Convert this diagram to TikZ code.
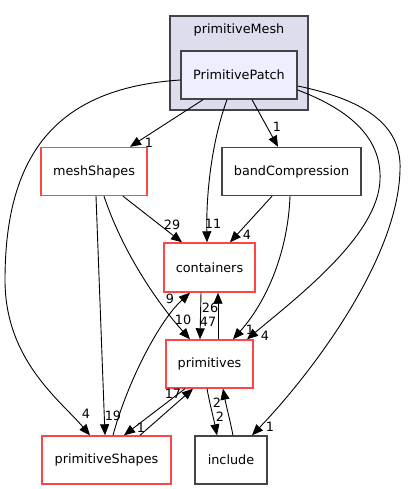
\documentclass[tikz,border=0pt]{standalone}
\usepackage{fontspec}
\setmainfont{DejaVu Sans}
\usepackage{tikz}
\usetikzlibrary{arrows.meta}

\definecolor{clusterfill}{HTML}{DDDDEE}
\definecolor{patchfill}{HTML}{EEEEFF}
\definecolor{darkedge}{HTML}{444444}
\definecolor{rededge}{HTML}{FF4545}

\begin{document}
\begin{tikzpicture}[x=1pt, y=-1pt, font=\fontsize{12.8}{14}\selectfont,
    reddir/.style={draw=rededge, line width=1.4pt, fill=white, minimum height=48pt, inner sep=0pt},
    plaindir/.style={draw=darkedge, line width=1.4pt, fill=white, minimum height=48pt, inner sep=0pt},
    dep/.style={line width=0.9pt, -{Triangle[length=11pt,width=9pt]}},
    lbl/.style={inner sep=0pt}]
    \useasboundingbox (0, 0) rectangle (408, 489);
    \node[draw=darkedge, line width=1.4pt, fill=clusterfill, minimum width=138pt, minimum height=94pt] (meshcluster) at (239, 63) {};
    \node (meshclustername) at (239, 30) {primitiveMesh};
    \node[plaindir, fill=patchfill, minimum width=116pt] (PrimitivePatch) at (239, 75) {PrimitivePatch};
    \node[reddir, minimum width=106pt] (meshShapes) at (94, 171.5) {meshShapes};
    \node[plaindir, minimum width=139pt] (bandCompression) at (291.5, 171.5) {bandCompression};
    \node[reddir, minimum width=91pt, minimum height=49pt] (containers) at (209.5, 267.5) {containers};
    \node[reddir, minimum width=87pt] (primitives) at (209.5, 364) {primitives};
    \node[reddir, minimum width=129pt] (primitiveShapes) at (106.5, 460) {primitiveShapes};
    \node[plaindir, minimum width=72pt] (include) at (231, 460) {include};

    \draw[dep] ([xshift=-36pt]PrimitivePatch.south) -- ([xshift=36pt]meshShapes.north);
    \draw[dep] ([xshift=13pt]PrimitivePatch.south) -- ([xshift=-13.5pt]bandCompression.north);
    \draw[dep] ([xshift=-12pt]PrimitivePatch.south) .. controls (214, 135) and (206, 185) .. ([xshift=-2.5pt]containers.north);
    \draw[dep] ([yshift=-5pt]PrimitivePatch.west) .. controls (60, 88) and (5, 150) .. (5, 280) .. controls (5, 360) and (60, 400) .. ([xshift=-16.5pt]primitiveShapes.north);
    \draw[dep] ([yshift=-15pt]PrimitivePatch.east) .. controls (345, 108) and (382, 135) .. (380, 180) .. controls (378, 235) and (300, 295) .. ([xshift=37.5pt]primitives.north);
    \draw[dep] ([yshift=-11pt]PrimitivePatch.east) .. controls (365, 100) and (402, 125) .. (400, 170) .. controls (398, 260) and (310, 375) .. ([xshift=21pt]include.north);

    \draw[dep] ([xshift=29pt]meshShapes.south) -- ([xshift=-27.5pt]containers.north);
    \draw[dep] ([xshift=10pt]meshShapes.south) .. controls (122, 250) and (155, 300) .. ([xshift=-19.5pt]primitives.north);
    \draw[dep] ([xshift=2pt]meshShapes.south) -- ([xshift=-1.5pt]primitiveShapes.north);
    \draw[dep] ([xshift=-19.5pt]bandCompression.south) -- ([xshift=20.5pt]containers.north);
    \draw[dep] ([xshift=-1.5pt]bandCompression.south) .. controls (288, 250) and (268, 300) .. ([xshift=23.5pt]primitives.north);

    \draw[dep] ([xshift=-8.5pt]containers.south) -- ([xshift=-9.5pt]primitives.north);
    \draw[dep] ([xshift=8.5pt]primitives.north) -- ([xshift=8.5pt]containers.south);
    \draw[dep] ([xshift=6.5pt]primitiveShapes.north) .. controls (128, 380) and (160, 320) .. ([xshift=-19.5pt]containers.south);
    \draw[dep] ([xshift=33.5pt]primitiveShapes.north) -- ([xshift=-16.5pt]primitives.south);
    \draw[dep] ([xshift=-24.5pt]primitives.south) -- ([xshift=17.5pt]primitiveShapes.north);
    \draw[dep] ([xshift=-2.5pt]primitives.south) .. controls (210, 405) and (214, 420) .. ([xshift=-14pt]include.north);
    \draw[dep] ([xshift=2pt]include.north) .. controls (230, 420) and (226, 405) .. ([xshift=13.5pt]primitives.south);

    \node[lbl] (nMeshShapes) at (149, 143) {1};
    \node[lbl] (nBand) at (277, 127) {1};
    \node[lbl] (nPatchCont) at (213, 224) {11};
    \node[lbl] (nPatchShapes) at (86, 414) {4};
    \node[lbl] (nPatchPrim) at (265, 336) {4};
    \node[lbl] (nPatchInc) at (270, 427) {1};
    \node[lbl] (nMeshCont) at (172, 225) {29};
    \node[lbl] (nMeshPrim) at (183, 320) {10};
    \node[lbl] (nMeshShapesPS) at (113, 416) {19};
    \node[lbl] (nBandCont) at (247, 235) {4};
    \node[lbl] (nBandPrim) at (250, 330) {1};
    \node[lbl] (nContPrim) at (208, 322) {47};
    \node[lbl] (nPrimCont) at (210, 308) {26};
    \node[lbl] (nShapesCont) at (170, 299) {9};
    \node[lbl] (nShapesPrim) at (173, 394) {17};
    \node[lbl] (nPrimShapes) at (141, 428) {1};
    \node[lbl] (nPrimInc) at (220, 417) {2};
    \node[lbl] (nIncPrim) at (217, 403) {2};
\end{tikzpicture}
\end{document}
